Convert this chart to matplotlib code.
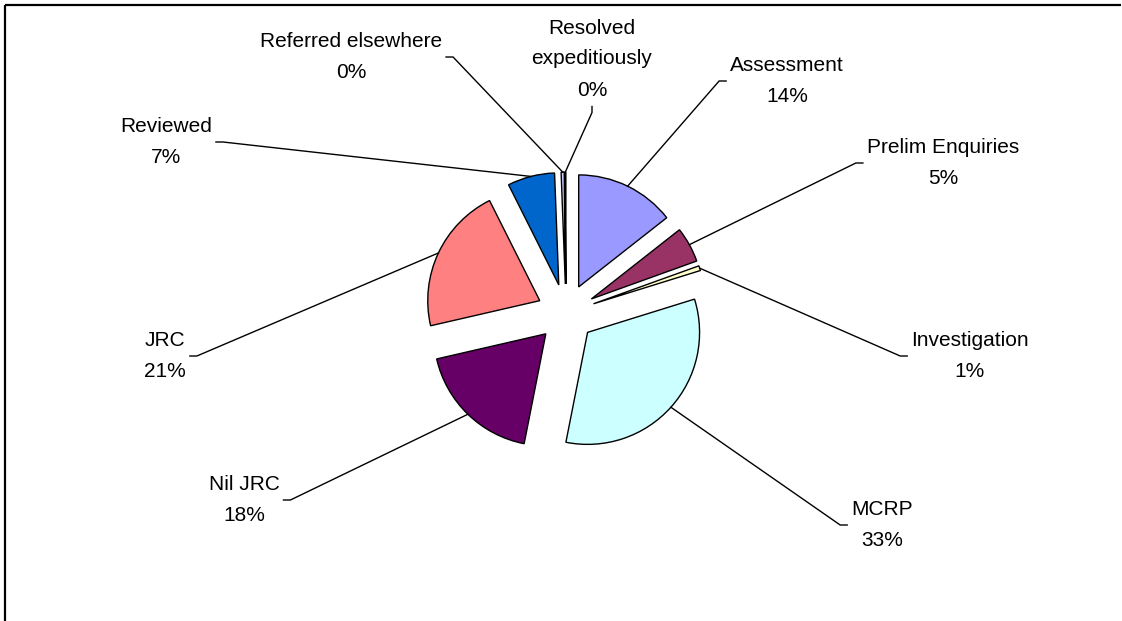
import numpy as np
import matplotlib
matplotlib.use("Agg")
import matplotlib.pyplot as plt

plt.rcParams['font.family'] = ['Liberation Sans', 'DejaVu Sans']

# slices, clockwise from 12 o'clock
categories = ["Assessment", "Prelim Enquiries", "Investigation", "MCRP", "Nil JRC",
              "JRC", "Reviewed", "Referred elsewhere", "Resolved expeditiously"]
shares = [14.4, 5.1, 0.7, 32.9, 18.3, 21.2, 6.8, 0.45, 0.15]
label_names = ["Assessment", "Prelim Enquiries", "Investigation", "MCRP", "Nil JRC",
               "JRC", "Reviewed", "Referred elsewhere", "Resolved\nexpeditiously"]
colors = ["#9999FF", "#993366", "#FFFFCC", "#CCFFFF", "#660066",
          "#FF8080", "#0066CC", "#CCCCFF", "#000080"]

# label centres in pixels (from top-left) and where the leader line attaches
label_pos = [(787, 81), (943, 163), (970, 356), (882, 525), (244, 500),
             (165, 356), (166, 142), (351, 57), (592, 59)]
stub_side = ['left', 'left', 'left', 'left', 'right',
             'right', 'right', 'right', 'bottom']

W, H = 1122, 621
R = 112
fig = plt.figure(figsize=(W / 100, H / 100), dpi=100)
ax = fig.add_axes([0, 0, 1, 1])

# explode is an absolute offset in data units (pixels here)
wedges, _ = ax.pie(shares, colors=colors, startangle=90, counterclock=False,
                   center=(566, H - 313), radius=R, explode=[29] * len(shares),
                   wedgeprops=dict(edgecolor='black', linewidth=1.0))
ax.set_xlim(0, W)
ax.set_ylim(0, H)
ax.set_aspect('equal')
ax.axis('off')

total = sum(shares)
texts = []
for name, v, (x, y) in zip(label_names, shares, label_pos):
    pct = int(round(v / total * 100))
    t = ax.text(x, H - y, f"{name}\n{pct}%", ha='center', va='center',
                fontsize=15, linespacing=1.8, color='black')
    texts.append(t)

fig.canvas.draw()
renderer = fig.canvas.get_renderer()
inv = ax.transData.inverted()

for w, t, side in zip(wedges, texts, stub_side):
    mid = np.deg2rad((w.theta1 + w.theta2) / 2)
    cx, cy = w.center
    ex, ey = cx + w.r * np.cos(mid), cy + w.r * np.sin(mid)
    bb = t.get_window_extent(renderer).transformed(inv)
    ym = (bb.y0 + bb.y1) / 2
    if side == 'left':
        p0, p1 = (bb.x0 - 4, ym), (bb.x0 - 11, ym)
    elif side == 'right':
        p0, p1 = (bb.x1 + 4, ym), (bb.x1 + 11, ym)
    else:
        xm = (bb.x0 + bb.x1) / 2
        p0, p1 = (xm, bb.y0 - 7), (xm, bb.y0 - 13)
    ax.plot([p0[0], p1[0], ex], [p0[1], p1[1], ey], color='black', lw=1.0,
            solid_joinstyle='miter')

# chart area border (left and top edges visible)
ax.plot([5, 5], [0, H - 5], color='black', lw=1.6, clip_on=False,
        solid_capstyle='butt')
ax.plot([5, W - 1], [H - 5, H - 5], color='black', lw=1.6, clip_on=False,
        solid_capstyle='butt')

fig.savefig("out.png", dpi=100)
